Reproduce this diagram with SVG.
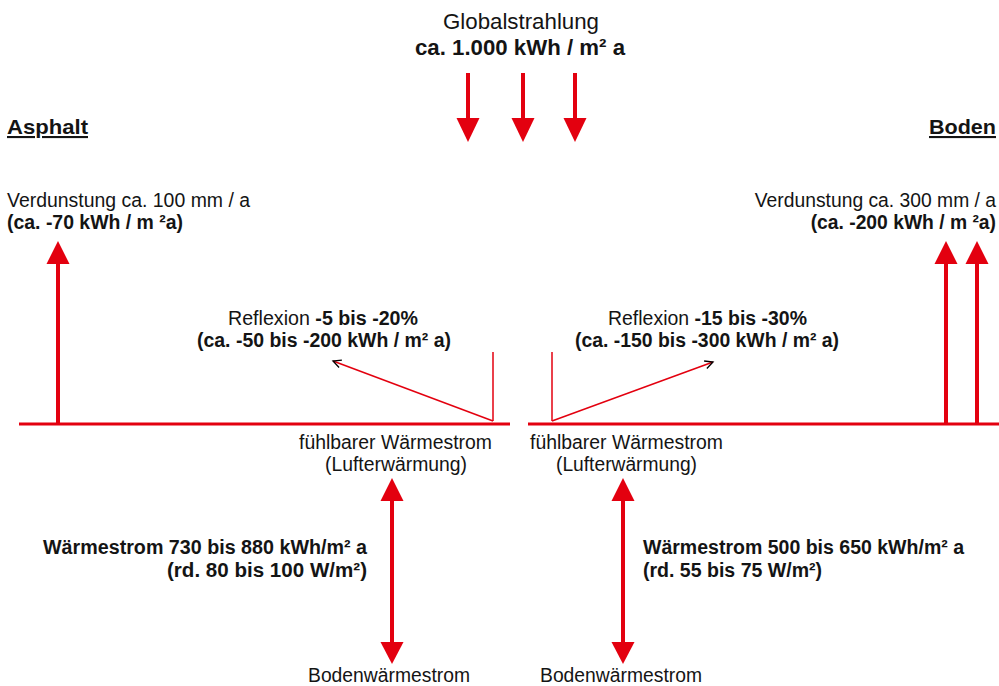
<svg xmlns="http://www.w3.org/2000/svg" width="999" height="686" viewBox="0 0 999 686">
<style>
text{font-family:"Liberation Sans",Arial,sans-serif;font-size:20px;fill:#141414}
.b{font-weight:bold}
.t{font-size:22px}
.h{font-size:21px;font-weight:bold;text-decoration:underline}
.r{font-size:19.3px;text-anchor:end}
.thick{stroke:#E3000F;stroke-width:4;fill:none}
.ground{stroke:#E3000F;stroke-width:3;fill:none}
.thin{stroke:#E3000F;stroke-width:1.5;fill:none}
.head{fill:#E3000F}
</style>
<defs>
<marker id="open" markerUnits="userSpaceOnUse" markerWidth="12" markerHeight="12" viewBox="-10 -6 12 12" refX="0" refY="0" orient="auto">
<path d="M-8,-4 L0,0 L-8,4" fill="none" stroke="#000" stroke-width="1.3"/>
</marker>
</defs>
<rect width="999" height="686" fill="#fff"/>

<g id="connectors">
<line class="thick" x1="468" y1="73" x2="468" y2="120"/>
<polygon class="head" points="456.5,118 479.5,118 468,142"/>
<line class="thick" x1="523" y1="73" x2="523" y2="120"/>
<polygon class="head" points="511.5,118 534.5,118 523,142"/>
<line class="thick" x1="575" y1="73" x2="575" y2="120"/>
<polygon class="head" points="563.5,118 586.5,118 575,142"/>
<line class="ground" x1="19" y1="424" x2="510" y2="424"/>
<line class="ground" x1="528" y1="424" x2="999" y2="424"/>
<line class="thick" x1="58" y1="262" x2="58" y2="424"/>
<polygon class="head" points="46.5,264 69.5,264 58,241"/>
<line class="thick" x1="946" y1="262" x2="946" y2="424"/>
<polygon class="head" points="934.5,264 957.5,264 946,241"/>
<line class="thick" x1="977" y1="262" x2="977" y2="424"/>
<polygon class="head" points="965.5,264 988.5,264 977,241"/>
<line class="thin" x1="493" y1="352" x2="493" y2="421"/>
<line class="thin" x1="493" y1="421" x2="333" y2="361" marker-end="url(#open)"/>
<line class="thin" x1="552" y1="352" x2="552" y2="421"/>
<line class="thin" x1="552" y1="421" x2="713" y2="362" marker-end="url(#open)"/>
<line class="thick" x1="392" y1="499" x2="392" y2="644"/>
<polygon class="head" points="380.5,501 403.5,501 392,478"/>
<polygon class="head" points="380.5,642 403.5,642 392,664"/>
<line class="thick" x1="623" y1="499" x2="623" y2="644"/>
<polygon class="head" points="611.5,501 634.5,501 623,478"/>
<polygon class="head" points="611.5,642 634.5,642 623,664"/>
</g>

<g id="globalstrahlung">
<text class="t" x="443" y="29" textLength="156" lengthAdjust="spacingAndGlyphs">Globalstrahlung</text>
<text class="t b" x="415" y="55" textLength="210" lengthAdjust="spacingAndGlyphs">ca. 1.000 kWh / m² a</text>
</g>
<g id="asphalt">
<text class="h" x="7" y="134" textLength="81" lengthAdjust="spacingAndGlyphs">Asphalt</text>
</g>
<g id="boden">
<text class="h" x="929" y="134" textLength="67" lengthAdjust="spacingAndGlyphs">Boden</text>
</g>
<g id="verdunstung-asphalt">
<text x="7" y="207" textLength="243" lengthAdjust="spacingAndGlyphs">Verdunstung ca. 100 mm / a</text>
<text class="b" x="7" y="229" textLength="176" lengthAdjust="spacingAndGlyphs">(ca. -70 kWh / m ²a)</text>
</g>
<g id="verdunstung-boden">
<text class="r" x="996" y="207">Verdunstung ca. 300 mm / a</text>
<text class="r b" x="996" y="229">(ca. -200 kWh / m ²a)</text>
</g>
<g id="reflexion-asphalt">
<text x="228" y="325" textLength="190" lengthAdjust="spacingAndGlyphs">Reflexion <tspan class="b">-5 bis -20%</tspan></text>
<text class="b" x="197" y="347" textLength="254" lengthAdjust="spacingAndGlyphs">(ca. -50 bis -200 kWh / m² a)</text>
</g>
<g id="reflexion-boden">
<text x="608" y="325" textLength="199" lengthAdjust="spacingAndGlyphs">Reflexion <tspan class="b">-15 bis -30%</tspan></text>
<text class="b" x="575" y="347" textLength="264" lengthAdjust="spacingAndGlyphs">(ca. -150 bis -300 kWh / m² a)</text>
</g>
<g id="luft-asphalt">
<text x="299" y="449" textLength="193" lengthAdjust="spacingAndGlyphs">fühlbarer Wärmestrom</text>
<text x="325" y="471" textLength="142" lengthAdjust="spacingAndGlyphs">(Lufterwärmung)</text>
</g>
<g id="luft-boden">
<text x="530" y="449" textLength="193" lengthAdjust="spacingAndGlyphs">fühlbarer Wärmestrom</text>
<text x="556" y="471" textLength="141" lengthAdjust="spacingAndGlyphs">(Lufterwärmung)</text>
</g>
<g id="waermestrom-asphalt">
<text class="b" x="43" y="554" textLength="324" lengthAdjust="spacingAndGlyphs">Wärmestrom 730 bis 880 kWh/m² a</text>
<text class="b" x="167" y="577" textLength="200" lengthAdjust="spacingAndGlyphs">(rd. 80 bis 100 W/m²)</text>
</g>
<g id="waermestrom-boden">
<text class="b" x="643" y="554" textLength="321" lengthAdjust="spacingAndGlyphs">Wärmestrom 500 bis 650 kWh/m² a</text>
<text class="b" x="643" y="577" textLength="179" lengthAdjust="spacingAndGlyphs">(rd. 55 bis 75 W/m²)</text>
</g>
<g id="boden-asphalt">
<text x="308" y="682" textLength="162" lengthAdjust="spacingAndGlyphs">Bodenwärmestrom</text>
</g>
<g id="boden-boden">
<text x="540" y="682" textLength="162" lengthAdjust="spacingAndGlyphs">Bodenwärmestrom</text>
</g>
</svg>
